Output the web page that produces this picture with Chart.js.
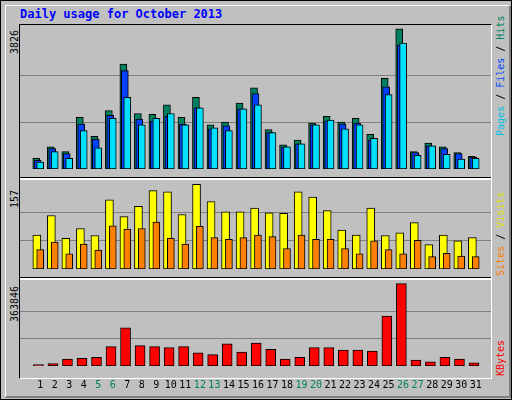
<!DOCTYPE html>
<html>
<head>
<meta charset="utf-8">
<script src="https://cdn.jsdelivr.net/npm/chart.js@4"></script>
<style>
  body { margin: 0; background: #fff; }
  #frame { position: absolute; left: 0; top: 0; width: 510px; height: 398px; background: #c0c0c0; border: 1px solid #000; }
  #bevel { position: absolute; left: 4px; top: 4px; width: 503px; height: 390px; border-right: 2px solid #808080; border-bottom: 2px solid #808080; border-top: 1px solid #fff; border-left: 1px solid #fff; }
  .panel { position: absolute; left: 20px; width: 471px; }
  #plotbox { position: absolute; left: 19px; top: 24px; width: 471px; height: 353px; border-top: 1px solid #000; border-left: 1px solid #000; border-right: 1px solid #fff; border-bottom: 1px solid #fff; }
  .sep { position: absolute; left: 20px; width: 471px; height: 2px; background: #fff; border-top: 1px solid #000; }
  .title { position: absolute; left: 20px; top: 7px; font: bold 12px "DejaVu Sans Mono", monospace; color: #0000ff; }
  .rot { position: absolute; transform-origin: 0 0; transform: rotate(-90deg); font: 10px "DejaVu Sans Mono", monospace; white-space: nowrap; }
</style>
</head>
<body>
<div id="frame"><div id="bevel"></div></div>
<div class="title">Daily usage for October 2013</div>
<div id="plotbox"></div>
<canvas id="c1" class="panel" style="top:25px;height:152px" width="471" height="152"></canvas>
<div class="sep" style="top:177px"></div>
<canvas id="c2" class="panel" style="top:180px;height:97px" width="471" height="97"></canvas>
<div class="sep" style="top:277px"></div>
<canvas id="c3" class="panel" style="top:280px;height:116px" width="471" height="116"></canvas>
<div class="rot" style="left:9px;top:54px;color:#000">3826</div>
<div class="rot" style="left:9px;top:208px;color:#000">157</div>
<div class="rot" style="left:9px;top:322px;color:#000">363846</div>
<div class="rot" style="left:495px;top:136px"><span style="color:#00c0e0">Pages</span> / <span style="color:#0040ff">Files</span> / <span style="color:#008060">Hits</span></div>
<div class="rot" style="left:495px;top:276px"><span style="color:#ff8000">Sites</span> / <span style="color:#e0e000">Visits</span></div>
<div class="rot" style="left:495px;top:376px;color:#ff0000">KBytes</div>
<script>
const days = ['1','2','3','4','5','6','7','8','9','10','11','12','13','14','15','16','17','18','19','20','21','22','23','24','25','26','27','28','29','30','31'];
const weekendDays = [5, 6, 12, 13, 19, 20, 26, 27];
const hits = [294,606,476,1411,892,1593,2865,1515,1489,1749,1411,1956,1203,1281,1800,2216,1073,658,788,1255,1437,1281,1385,943,2476,3826,476,710,606,450,346];
const files = [234,554,424,1229,814,1463,2683,1359,1307,1437,1229,1671,1099,1177,1645,2060,995,606,684,1203,1307,1229,1255,788,2242,3384,450,632,554,424,320];
const pages = [190,476,294,1047,580,1385,1956,1203,1385,1515,1203,1671,1125,1047,1645,1749,995,606,684,1203,1333,1099,1203,840,2034,3436,372,632,398,268,294];
const visits = [63,99,57,75,62,128,97,116,145,143,101,157,125,106,106,113,104,103,143,133,108,72,63,113,62,67,86,45,63,52,58];
const sites = [36,50,28,46,35,80,74,75,87,57,46,79,58,55,58,63,60,38,63,55,55,38,28,52,36,28,53,23,29,24,23];
const kbytes = [6600,10500,30300,34300,38200,85700,168700,89600,85700,81700,85700,58000,50100,97600,62000,101500,73800,30300,38200,81700,81700,69900,69900,65900,220200,363846,26400,18500,38200,30300,14500];

function series(values, shift) {
    return values.map((v, i) => ({ x: i + 1 + shift, y: v }));
}

function bars(values, shift, color, width, order) {
    return { data: series(values, shift), backgroundColor: color, borderColor: '#000', borderWidth: 1, barThickness: width, grouped: false, borderSkipped: false, order: order };
}

function makeChart(id, datasets, top, maxLabel, showDays) {
    return new Chart(document.getElementById(id), {
        type: 'bar',
        data: { datasets: datasets },
        options: {
            responsive: false, animation: false,
            plugins: { legend: { display: false }, tooltip: { enabled: false } },
            layout: { padding: 0 },
            scales: {
                x: {
                    type: 'linear', min: 0.133, max: 31.53,
                    grid: { display: false }, border: { display: false },
                    afterBuildTicks: s => { s.ticks = days.map((d, i) => ({ value: i + 1 })); },
                    ticks: {
                        display: showDays, autoSkip: false, maxRotation: 0, padding: 5,
                        font: { family: 'DejaVu Sans Mono', size: 10 },
                        callback: v => days[v - 1],
                        color: ctx => weekendDays.includes(ctx.tick.value) ? '#008060' : '#000'
                    }
                },
                y: {
                    min: 0, max: top,
                    border: { display: false },
                    afterBuildTicks: s => { s.ticks = [maxLabel / 3, maxLabel * 2 / 3].map(v => ({ value: v })); },
                    grid: { color: '#808080', lineWidth: 1, drawTicks: false },
                    ticks: { display: false }
                }
            }
        }
    });
}

makeChart('c1', [
    bars(hits, -0.27, '#008060', 7, 3),
    bars(files, -0.17, '#0040ff', 7, 2),
    bars(pages, 0, '#00e0ff', 7, 1)
], 3826 * 152 / 148, 3826, false);

makeChart('c2', [
    bars(visits, -0.23, '#ffff00', 8, 2),
    bars(sites, 0, '#ff8000', 7, 1)
], 157 * 97 / 92.4, 157, false);

makeChart('c3', [
    bars(kbytes, -0.12, '#ff0000', 10, 1)
], 363846 * 96 / 92, 363846, true);
</script>
</body>
</html>
